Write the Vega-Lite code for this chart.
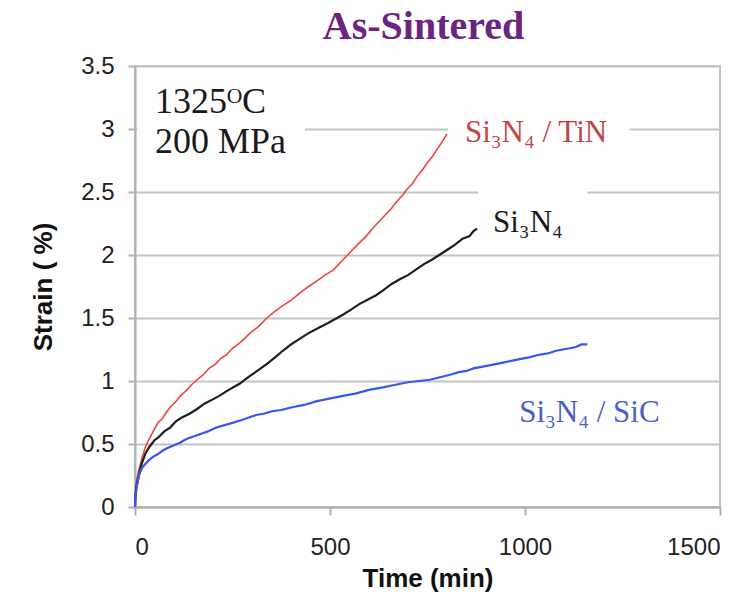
{
  "$schema": "https://vega.github.io/schema/vega-lite/v6.json",
  "width": 585,
  "height": 441,
  "autosize": {"type": "none"},
  "padding": {"left": 135, "top": 66, "right": 34, "bottom": 88},
  "background": "white",
  "title": {"text": "As-Sintered", "font": "Liberation Serif", "fontSize": 40, "fontWeight": "bold", "color": "#6b2480", "anchor": "middle", "baseline": "bottom", "offset": 6, "dy": 39, "dx": -4},
  "config": {
    "view": {"stroke": "#c4c4c4", "strokeWidth": 2},
    "axis": {
      "gridColor": "#c4c4c4", "gridWidth": 2, "domainColor": "#b0b0b0", "domainWidth": 2,
      "tickColor": "#b0b0b0", "tickWidth": 2, "tickSize": 7,
      "labelFont": "Liberation Sans", "labelFontSize": 24, "labelColor": "#222222",
      "titleFont": "Liberation Sans", "titleFontSize": 26, "titleFontWeight": "bold", "titleColor": "#111111"
    }
  },
  "datasets": {
    "tin": [
      {"t":0,"s":0},{"t":1,"s":0.10},{"t":2,"s":0.15},{"t":4,"s":0.21},{"t":8,"s":0.27},{"t":12,"s":0.32},{"t":18,"s":0.39},{"t":26,"s":0.47},{"t":33,"s":0.52},{"t":40,"s":0.56},{"t":50,"s":0.62},{"t":59,"s":0.67},{"t":70,"s":0.70},{"t":80,"s":0.75},{"t":92,"s":0.80},{"t":103,"s":0.83},{"t":116,"s":0.88},{"t":130,"s":0.92},{"t":145,"s":0.97},{"t":159,"s":1.01},{"t":175,"s":1.05},{"t":190,"s":1.10},{"t":205,"s":1.13},{"t":220,"s":1.18},{"t":235,"s":1.21},{"t":250,"s":1.26},{"t":272,"s":1.31},{"t":295,"s":1.38},{"t":316,"s":1.43},{"t":338,"s":1.50},{"t":358,"s":1.55},{"t":380,"s":1.60},{"t":400,"s":1.64},{"t":423,"s":1.70},{"t":445,"s":1.75},{"t":465,"s":1.79},{"t":487,"s":1.84},{"t":508,"s":1.88},{"t":530,"s":1.95},{"t":551,"s":2.02},{"t":570,"s":2.08},{"t":590,"s":2.14},{"t":612,"s":2.22},{"t":636,"s":2.30},{"t":655,"s":2.36},{"t":670,"s":2.42},{"t":685,"s":2.47},{"t":697,"s":2.52},{"t":712,"s":2.57},{"t":725,"s":2.63},{"t":738,"s":2.68},{"t":749,"s":2.73},{"t":762,"s":2.78},{"t":775,"s":2.84},{"t":788,"s":2.90},{"t":800,"s":2.96}
    ],
    "sn": [
      {"t":0,"s":0},{"t":1,"s":0.08},{"t":2,"s":0.12},{"t":4,"s":0.17},{"t":8,"s":0.22},{"t":12,"s":0.28},{"t":18,"s":0.35},{"t":26,"s":0.42},{"t":33,"s":0.46},{"t":40,"s":0.49},{"t":50,"s":0.53},{"t":59,"s":0.55},{"t":75,"s":0.60},{"t":90,"s":0.63},{"t":105,"s":0.68},{"t":120,"s":0.71},{"t":140,"s":0.74},{"t":160,"s":0.78},{"t":178,"s":0.82},{"t":197,"s":0.85},{"t":215,"s":0.88},{"t":235,"s":0.92},{"t":252,"s":0.95},{"t":269,"s":0.98},{"t":282,"s":1.01},{"t":295,"s":1.04},{"t":318,"s":1.09},{"t":340,"s":1.14},{"t":360,"s":1.19},{"t":379,"s":1.24},{"t":400,"s":1.29},{"t":420,"s":1.33},{"t":445,"s":1.38},{"t":470,"s":1.42},{"t":495,"s":1.46},{"t":518,"s":1.50},{"t":535,"s":1.53},{"t":551,"s":1.56},{"t":575,"s":1.61},{"t":600,"s":1.65},{"t":618,"s":1.68},{"t":636,"s":1.72},{"t":658,"s":1.77},{"t":680,"s":1.81},{"t":700,"s":1.84},{"t":723,"s":1.89},{"t":742,"s":1.93},{"t":760,"s":1.96},{"t":780,"s":2.00},{"t":800,"s":2.04},{"t":820,"s":2.08},{"t":840,"s":2.13},{"t":858,"s":2.15},{"t":868,"s":2.19},{"t":877,"s":2.21}
    ],
    "sic": [
      {"t":0,"s":0},{"t":1,"s":0.06},{"t":2,"s":0.10},{"t":4,"s":0.15},{"t":8,"s":0.22},{"t":12,"s":0.27},{"t":18,"s":0.31},{"t":26,"s":0.34},{"t":35,"s":0.37},{"t":47,"s":0.40},{"t":59,"s":0.42},{"t":72,"s":0.45},{"t":85,"s":0.47},{"t":100,"s":0.49},{"t":115,"s":0.51},{"t":132,"s":0.54},{"t":150,"s":0.56},{"t":168,"s":0.58},{"t":187,"s":0.60},{"t":208,"s":0.63},{"t":230,"s":0.65},{"t":252,"s":0.67},{"t":274,"s":0.69},{"t":292,"s":0.71},{"t":310,"s":0.73},{"t":330,"s":0.74},{"t":351,"s":0.76},{"t":375,"s":0.77},{"t":400,"s":0.79},{"t":433,"s":0.81},{"t":467,"s":0.84},{"t":498,"s":0.86},{"t":530,"s":0.88},{"t":565,"s":0.90},{"t":600,"s":0.93},{"t":636,"s":0.95},{"t":668,"s":0.97},{"t":700,"s":0.99},{"t":728,"s":1.00},{"t":756,"s":1.01},{"t":782,"s":1.03},{"t":808,"s":1.05},{"t":830,"s":1.07},{"t":850,"s":1.08},{"t":868,"s":1.10},{"t":885,"s":1.11},{"t":918,"s":1.13},{"t":950,"s":1.15},{"t":980,"s":1.17},{"t":1013,"s":1.19},{"t":1038,"s":1.21},{"t":1060,"s":1.22},{"t":1080,"s":1.24},{"t":1097,"s":1.25},{"t":1115,"s":1.26},{"t":1130,"s":1.27},{"t":1145,"s":1.29},{"t":1160,"s":1.29}
    ],
    "boxes": [
      {"x1":6,"x2":436,"y1":2.72,"y2":3.45},
      {"x1":802,"x2":1268,"y1":2.82,"y2":3.15},
      {"x1":880,"x2":1160,"y1":2.33,"y2":2.62}
    ],
    "notes": [
      {"t":51,"s":3.13,"label":"1325ᴼC"},
      {"t":51,"s":2.81,"label":"200 MPa"}
    ]
  },
  "layer": [
    {
      "data": {"name": "boxes"},
      "mark": {"type": "rect", "fill": "white", "stroke": null},
      "encoding": {
        "x": {"field": "x1", "type": "quantitative", "scale": {"domain": [0, 1500], "nice": false}, "axis": {"values": [0, 500, 1000, 1500], "format": "d", "title": "Time (min)", "grid": false, "tickSize": 8, "labelPadding": 20, "titlePadding": 6}},
        "x2": {"field": "x2"},
        "y": {"field": "y1", "type": "quantitative", "scale": {"domain": [0, 3.5], "nice": false}, "axis": {"values": [0, 0.5, 1, 1.5, 2, 2.5, 3, 3.5], "format": ".1~f", "title": "Strain ( %)", "grid": true, "labelPadding": 14, "titlePadding": 24}},
        "y2": {"field": "y2"}
      }
    },
    {
      "data": {"name": "tin"},
      "mark": {"type": "line", "color": "#ee4444", "strokeWidth": 1.6},
      "encoding": {"x": {"field": "t", "type": "quantitative", "scale": {"domain": [0, 1500], "nice": false}}, "y": {"field": "s", "type": "quantitative", "scale": {"domain": [0, 3.5], "nice": false}}}
    },
    {
      "data": {"name": "sn"},
      "mark": {"type": "line", "color": "#1e1e1e", "strokeWidth": 2.2},
      "encoding": {"x": {"field": "t", "type": "quantitative", "scale": {"domain": [0, 1500], "nice": false}}, "y": {"field": "s", "type": "quantitative", "scale": {"domain": [0, 3.5], "nice": false}}}
    },
    {
      "data": {"name": "sic"},
      "mark": {"type": "line", "color": "#3558f0", "strokeWidth": 2.2},
      "encoding": {"x": {"field": "t", "type": "quantitative", "scale": {"domain": [0, 1500], "nice": false}}, "y": {"field": "s", "type": "quantitative", "scale": {"domain": [0, 3.5], "nice": false}}}
    },
    {
      "data": {"name": "notes"},
      "mark": {"type": "text", "font": "Liberation Serif", "fontSize": 36, "align": "left", "baseline": "alphabetic", "color": "#1a1a1a"},
      "encoding": {"x": {"field": "t", "type": "quantitative", "scale": {"domain": [0, 1500], "nice": false}}, "y": {"field": "s", "type": "quantitative", "scale": {"domain": [0, 3.5], "nice": false}}, "text": {"field": "label"}}
    },
    {
      "data": {"values": [{"t": 846, "s": 2.90, "label": "Si₃N₄ / TiN"}]},
      "mark": {"type": "text", "font": "Liberation Serif", "fontSize": 31, "align": "left", "baseline": "alphabetic", "color": "#c24444"},
      "encoding": {"x": {"field": "t", "type": "quantitative", "scale": {"domain": [0, 1500], "nice": false}}, "y": {"field": "s", "type": "quantitative", "scale": {"domain": [0, 3.5], "nice": false}}, "text": {"field": "label"}}
    },
    {
      "data": {"values": [{"t": 918, "s": 2.18, "label": "Si₃N₄"}]},
      "mark": {"type": "text", "font": "Liberation Serif", "fontSize": 31, "align": "left", "baseline": "alphabetic", "color": "#1a1a1a"},
      "encoding": {"x": {"field": "t", "type": "quantitative", "scale": {"domain": [0, 1500], "nice": false}}, "y": {"field": "s", "type": "quantitative", "scale": {"domain": [0, 3.5], "nice": false}}, "text": {"field": "label"}}
    },
    {
      "data": {"values": [{"t": 985, "s": 0.675, "label": "Si₃N₄ / SiC"}]},
      "mark": {"type": "text", "font": "Liberation Serif", "fontSize": 31, "align": "left", "baseline": "alphabetic", "color": "#4660c8"},
      "encoding": {"x": {"field": "t", "type": "quantitative", "scale": {"domain": [0, 1500], "nice": false}}, "y": {"field": "s", "type": "quantitative", "scale": {"domain": [0, 3.5], "nice": false}}, "text": {"field": "label"}}
    }
  ]
}
